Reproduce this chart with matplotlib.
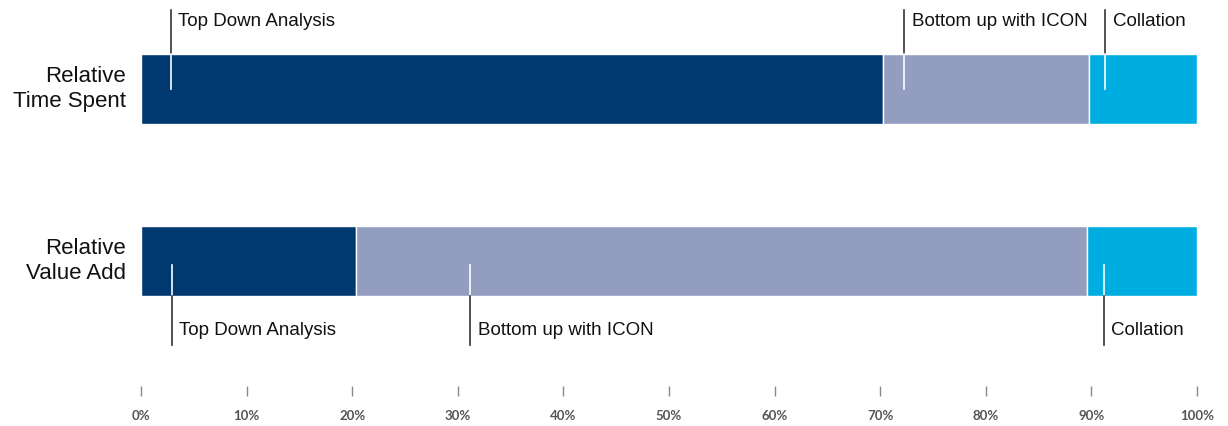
import matplotlib.pyplot as plt

# Data (percent of total)
rows = ['Relative\nTime Spent', 'Relative\nValue Add']
segments = ['Top Down Analysis', 'Bottom up with ICON', 'Collation']
time_spent = [70.3, 19.5, 10.2]
value_add = [20.4, 69.2, 10.4]
colors = ['#003870', '#939dc0', '#00ade0']

# callout positions (x in %) for each row
time_callouts = [2.8, 72.3, 91.3]
value_callouts = [2.9, 31.2, 91.2]

ticks = list(range(0, 101, 10))
tick_labels = ['%d%%' % t for t in ticks]

plt.rcParams['font.family'] = ['Liberation Sans', 'DejaVu Sans']

fig = plt.figure(figsize=(12.28, 4.26), dpi=100)
W, H = 1228, 426
ax = fig.add_axes([141 / W, 30 / H, 1056 / W, 396 / H])

bar_h = 70 / 172
for i, vals in enumerate([time_spent, value_add]):
    left = 0
    for v, c in zip(vals, colors):
        ax.barh(i, v, left=left, height=bar_h, color=c, edgecolor='white', linewidth=1)
        left += v

# callouts: top row above the bar, bottom row below
for x, name in zip(time_callouts, segments):
    ax.plot([x, x], [-0.459, -bar_h / 2], color='#333333', lw=1.2)
    ax.plot([x, x], [-bar_h / 2, 0], color='white', lw=1.2)
    ax.text(x + 0.7, -0.39, name, fontsize=13.5, va='center', ha='left', color='#111111')
for x, name in zip(value_callouts, segments):
    ax.plot([x, x], [1.023, 1 + bar_h / 2], color='white', lw=1.2)
    ax.plot([x, x], [1 + bar_h / 2, 1.488], color='#333333', lw=1.2)
    ax.text(x + 0.7, 1.407, name, fontsize=13.5, va='center', ha='left', color='#111111')

for i, r in enumerate(rows):
    ax.text(-1.4, i, r, fontsize=16, ha='right', va='center', linespacing=1.2, color='#111111')

ax.set_xlim(0, 100)
ax.set_ylim(1.785, -0.517)
ax.set_yticks([])
ax.set_xticks(ticks)
ax.set_xticklabels(tick_labels, fontsize=9.5, fontweight='bold', color='#555555', family='Lato')
ax.tick_params(axis='x', direction='in', length=7.2, width=1, color='#888888', pad=10)
for s in ax.spines.values():
    s.set_visible(False)

fig.savefig('out.png', dpi=100)
